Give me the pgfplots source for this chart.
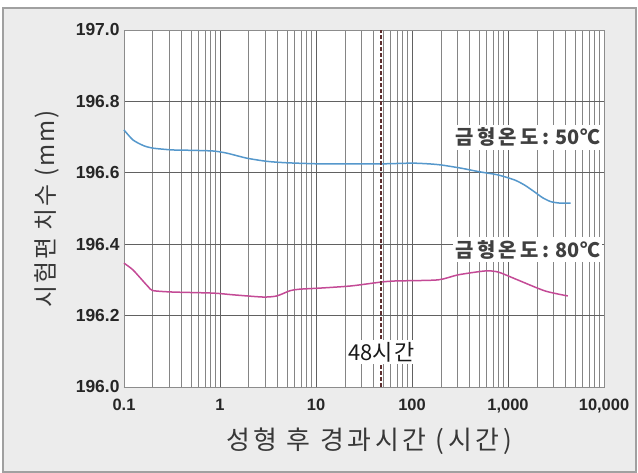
\documentclass[border=0pt]{standalone}
\usepackage{pgfplots}
\pgfplotsset{compat=1.18}
\usepackage{fontspec}
\setmainfont{Liberation Sans}
\newfontfamily\kr{Noto Sans CJK KR}
\definecolor{bggray}{HTML}{ECECEC}
\definecolor{frame}{HTML}{A0A0A0}
\definecolor{blueline}{HTML}{5598CC}
\definecolor{magline}{HTML}{C44A96}
\definecolor{dashc}{HTML}{5E2E2E}
\definecolor{txt}{HTML}{383838}
\begin{document}
\begin{tikzpicture}[x=1bp,y=1bp]
\fill[white] (-124,-79) rectangle (514,387);
\draw[fill=bggray, draw=frame, line width=1.5bp] (-121,-85) rectangle (512,379);
\begin{axis}[at={(0,0)}, anchor=south west, scale only axis,
  width=480bp, height=357bp,
  xmode=log, xmin=0.1, xmax=10000, ymin=196, ymax=197,
  axis background/.style={fill=white},
  xtick={0.1,1,10,100,1000,10000},
  xticklabels={0.1,1,10,100,{1,000},{10,000}},
  minor xtick={0.2,0.3,0.4,0.5,0.6,0.7,0.8,0.9,2,3,4,5,6,7,8,9,20,30,40,50,60,70,80,90,200,300,400,500,600,700,800,900,2000,3000,4000,5000,6000,7000,8000,9000},
  ytick={196,196.2,196.4,196.6,196.8,197},
  yticklabel style={/pgf/number format/fixed, /pgf/number format/fixed zerofill, /pgf/number format/precision=1, font=\fontsize{17.5}{18}\selectfont\bfseries, text=black!85, xshift=-1bp},
  xticklabel style={font=\fontsize{16.5}{17}\selectfont\bfseries, text=black!85, yshift=-9bp},
  /pgf/number format/assume math mode=true,
  major tick length=0pt, minor tick length=0pt,
  xmajorgrids, xminorgrids, ymajorgrids,
  major grid style={black!62, line width=0.8bp},
  minor grid style={black!48, line width=0.8bp},
  axis line style={black!45, line width=0.9bp},
  clip=false,
]
\addplot[blueline, line width=1.5bp, smooth, tension=0.4] coordinates {
(0.1,196.72) (0.124,196.692) (0.16,196.676) (0.2,196.669) (0.32,196.664) (0.5,196.663) (0.85,196.661) (1.18,196.655) (1.9,196.641) (3.1,196.632) (5,196.628) (11,196.625) (25,196.625) (48,196.625) (100,196.627) (150,196.625) (200,196.622) (324,196.613) (500,196.603) (787,196.594) (1170,196.580) (1500,196.565) (1900,196.546) (2300,196.530) (2800,196.519) (3500,196.515) (4500,196.515)
};
\addplot[magline, line width=1.5bp, smooth, tension=0.4] coordinates {
(0.1,196.347) (0.124,196.328) (0.16,196.295) (0.18,196.28) (0.2,196.27) (0.32,196.266) (0.85,196.263) (1.4,196.258) (2.8,196.252) (3.9,196.255) (5.4,196.27) (6.8,196.274) (11,196.277) (23,196.283) (48,196.294) (67,196.297) (186,196.30) (300,196.314) (575,196.325) (790,196.322) (1260,196.30) (2430,196.269) (4200,196.255)
};
\addplot[dashc, line width=2bp, dash pattern=on 4bp off 2bp] coordinates {(48,196) (48,197)};
\node[fill=white, inner xsep=2bp, inner ysep=3bp, anchor=west, text=black!75] at (axis cs:267,196.70) {\kr\bfseries\fontsize{20}{22}\selectfont{\addfontfeature{LetterSpace=18}금형온도:}\hspace{6bp}50℃};
\node[fill=white, inner xsep=2bp, inner ysep=3bp, anchor=west, text=black!75] at (axis cs:267,196.384) {\kr\bfseries\fontsize{20}{22}\selectfont{\addfontfeature{LetterSpace=18}금형온도:}\hspace{6bp}80℃};
\node[fill=white, inner xsep=1bp, inner ysep=2bp, text=black!90] at (axis cs:48,196.098) {\kr\fontsize{22}{23}\selectfont 48{\addfontfeature{LetterSpace=6}시간}};
\end{axis}
\node[rotate=90, text=txt] at (-77,178) {\kr\fontsize{24}{25}\selectfont\addfontfeature{LetterSpace=8}시험편 치수 (mm)};
\node[text=txt] at (245,-54) {\kr\fontsize{26}{27}\selectfont\addfontfeature{LetterSpace=14}성형 후 경과시간 (시간)};
\end{tikzpicture}
\end{document}
